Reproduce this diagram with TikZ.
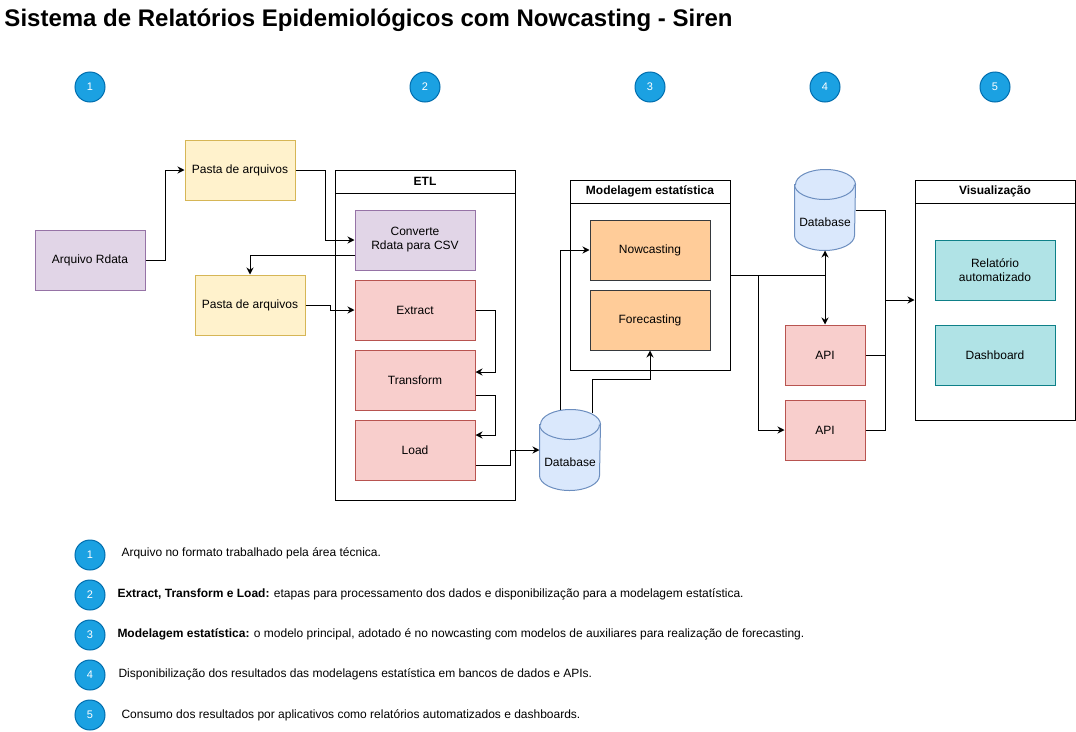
\documentclass[tikz,border=0pt]{standalone}
\usepackage{fontspec}
\setmainfont{Liberation Sans}
\usepackage{tikz}
\usetikzlibrary{arrows.meta}

\definecolor{roxoF}{HTML}{E1D5E7}
\definecolor{roxoB}{HTML}{9673A6}
\definecolor{amareloF}{HTML}{FFF2CC}
\definecolor{amareloB}{HTML}{D6B656}
\definecolor{vermelhoF}{HTML}{F8CECC}
\definecolor{vermelhoB}{HTML}{B85450}
\definecolor{laranjaF}{HTML}{FFCC99}
\definecolor{laranjaB}{HTML}{36393D}
\definecolor{cianoF}{HTML}{B0E3E6}
\definecolor{cianoB}{HTML}{0E8088}
\definecolor{bancoF}{HTML}{DAE8FC}
\definecolor{bancoB}{HTML}{6C8EBF}
\definecolor{azulF}{HTML}{1BA1E2}
\definecolor{azulB}{HTML}{006EAF}

% cilindro de banco de dados desenhado sobre o retangulo do no
\newcommand{\cilindro}[1]{%
  \filldraw[fill=bancoF,draw=bancoB] ([yshift=-15pt]#1.north west) -- ([yshift=15pt]#1.south west)
    arc[start angle=180,end angle=360,x radius=30pt,y radius=15pt]
    -- ([yshift=-15pt]#1.north east)
    arc[start angle=0,end angle=180,x radius=30pt,y radius=15pt] -- cycle;
  \draw[bancoB] ([yshift=-15pt]#1.north west) arc[start angle=180,end angle=360,x radius=30pt,y radius=15pt];}

\begin{document}
\begin{tikzpicture}
				[x=1pt,y=-1pt,line width=1pt,
				font=\fontsize{12}{14}\selectfont,
				box/.style={draw,align=center,minimum width=120pt,minimum height=60pt,inner sep=2pt},
				arquivo/.style={box,fill=roxoF,draw=roxoB},
				pasta/.style={box,fill=amareloF,draw=amareloB,minimum width=110pt},
				etapa/.style={box,fill=vermelhoF,draw=vermelhoB},
				modelo/.style={box,fill=laranjaF,draw=laranjaB},
				visual/.style={box,fill=cianoF,draw=cianoB},
				api/.style={etapa,minimum width=80pt},
				banco/.style={minimum width=60pt,minimum height=80pt,inner sep=0pt},
				lane/.style={draw,fill=white},
				lanehead/.style={draw,minimum height=23pt,font=\bfseries\fontsize{12}{14}\selectfont},
				badge/.style={circle,fill=azulF,draw=azulB,text=white,minimum size=30pt,inner sep=0pt,font=\fontsize{11}{13}\selectfont},
				legenda/.style={anchor=west,inner sep=0pt},
				seta/.style={-{Stealth[length=7pt,width=7pt]}}]

				\fill[white] (0,0) rectangle (1076,731);
				\useasboundingbox (0,0) rectangle (1076,731);

				\node[anchor=west,inner sep=0pt,font=\bfseries\fontsize{24}{28}\selectfont] (titulo) at (4,20)
					{Sistema de Relatórios Epidemiológicos com Nowcasting - Siren};

				\node[badge] (b1) at (90,87) {1};
				\node[badge] (b2) at (425,87) {2};
				\node[badge] (b3) at (650,87) {3};
				\node[badge] (b4) at (825,87) {4};
				\node[badge] (b5) at (995,87) {5};

				% raias
				\node[lane,minimum width=180pt,minimum height=330pt] (etl) at (425,335) {};
				\node[lanehead,minimum width=180pt] (etlh) at (425,181.5) {ETL};
				\node[lane,minimum width=160pt,minimum height=190pt] (mod) at (650,275) {};
				\node[lanehead,minimum width=160pt] (modh) at (650,191.5) {Modelagem estatística};
				\node[lane,minimum width=160pt,minimum height=240pt] (vis) at (995,300) {};
				\node[lanehead,minimum width=160pt] (vish) at (995,191.5) {Visualização};

				\node[arquivo,minimum width=110pt] (R) at (90,260) {Arquivo Rdata};
				\node[pasta] (P1) at (240,170) {Pasta de arquivos};
				\node[pasta] (P2) at (250,305) {Pasta de arquivos};
				\node[arquivo] (C) at (415,240) {Converte\\Rdata para CSV};
				\node[etapa] (E) at (415,310) {Extract};
				\node[etapa] (T) at (415,380) {Transform};
				\node[etapa] (L) at (415,450) {Load};

				\node[banco] (D1) at (570,450) {};
				\cilindro{D1}
				\node (D1t) at ([yshift=-12pt]D1.center) {Database};

				\node[modelo] (N) at (650,250) {Nowcasting};
				\node[modelo] (F) at (650,320) {Forecasting};

				\node[banco] (D2) at (825,210) {};
				\cilindro{D2}
				\node (D2t) at ([yshift=-12pt]D2.center) {Database};

				\node[api] (A1) at (825,355) {API};
				\node[api] (A2) at (825,430) {API};

				\node[visual] (Rel) at (995,270) {Relatório\\automatizado};
				\node[visual] (Dash) at (995,355) {Dashboard};

				\coordinate (J) at (825,275);
				\coordinate (K) at (758,275);
				\coordinate (S) at (885,300);

				% conexoes
				\draw[seta] (R.east) -- ++(20,0) |- (P1.west);
				\draw[seta] (P1.east) -- ++(30,0) |- (C.west);
				\draw[seta] ([yshift=-15pt]C.west) -| (P2.north);
				\draw[seta] (P2.east) -- ++(25,0) |- (E.west);
				\draw[seta] (E.east) -- ++(20,0) |- ([yshift=8pt]T.east);
				\draw[seta] ([yshift=-15pt]T.east) -- ++(20,0) |- ([yshift=15pt]L.east);
				\draw[seta] ([yshift=-15pt]L.east) -- ++(35,0) |- (D1.west);
				\draw[seta] ([xshift=-10pt]D1.north) |- (N.west);
				\draw[seta] ([xshift=22pt,yshift=-3pt]D1.north) -- ++(0,-33) -| (F.south);

				\draw (mod.east) -- (J);
				\draw[{Stealth[length=7pt,width=7pt]}-{Stealth[length=7pt,width=7pt]}] (D2.south) -- (A1.north);
				\draw[seta] (K) |- (A2.west);

				\draw (D2.east) -| (S);
				\draw (A1.east) -| (S);
				\draw (A2.east) -| (S);
				\draw[seta] (S) -- (vis.west);

				% legenda
				\node[badge] (l1) at (90,555) {1};
				\node[legenda] (t1) at (121,553) {Arquivo no formato trabalhado pela área técnica.};
				\node[badge] (l2) at (90,595) {2};
				\node[legenda] (t2) at (117,594) {\textbf{Extract, Transform e Load:} etapas para processamento dos dados e disponibilização para a modelagem estatística.};
				\node[badge] (l3) at (90,635) {3};
				\node[legenda] (t3) at (117,634) {\textbf{Modelagem estatística:} o modelo principal, adotado é no nowcasting com modelos de auxiliares para realização de forecasting.};
				\node[badge] (l4) at (90,675) {4};
				\node[legenda] (t4) at (118,674) {Disponibilização dos resultados das modelagens estatística em bancos de dados e APIs.};
				\node[badge] (l5) at (90,715) {5};
				\node[legenda] (t5) at (121,715) {Consumo dos resultados por aplicativos como relatórios automatizados e dashboards.};
			\end{tikzpicture}
\end{document}
